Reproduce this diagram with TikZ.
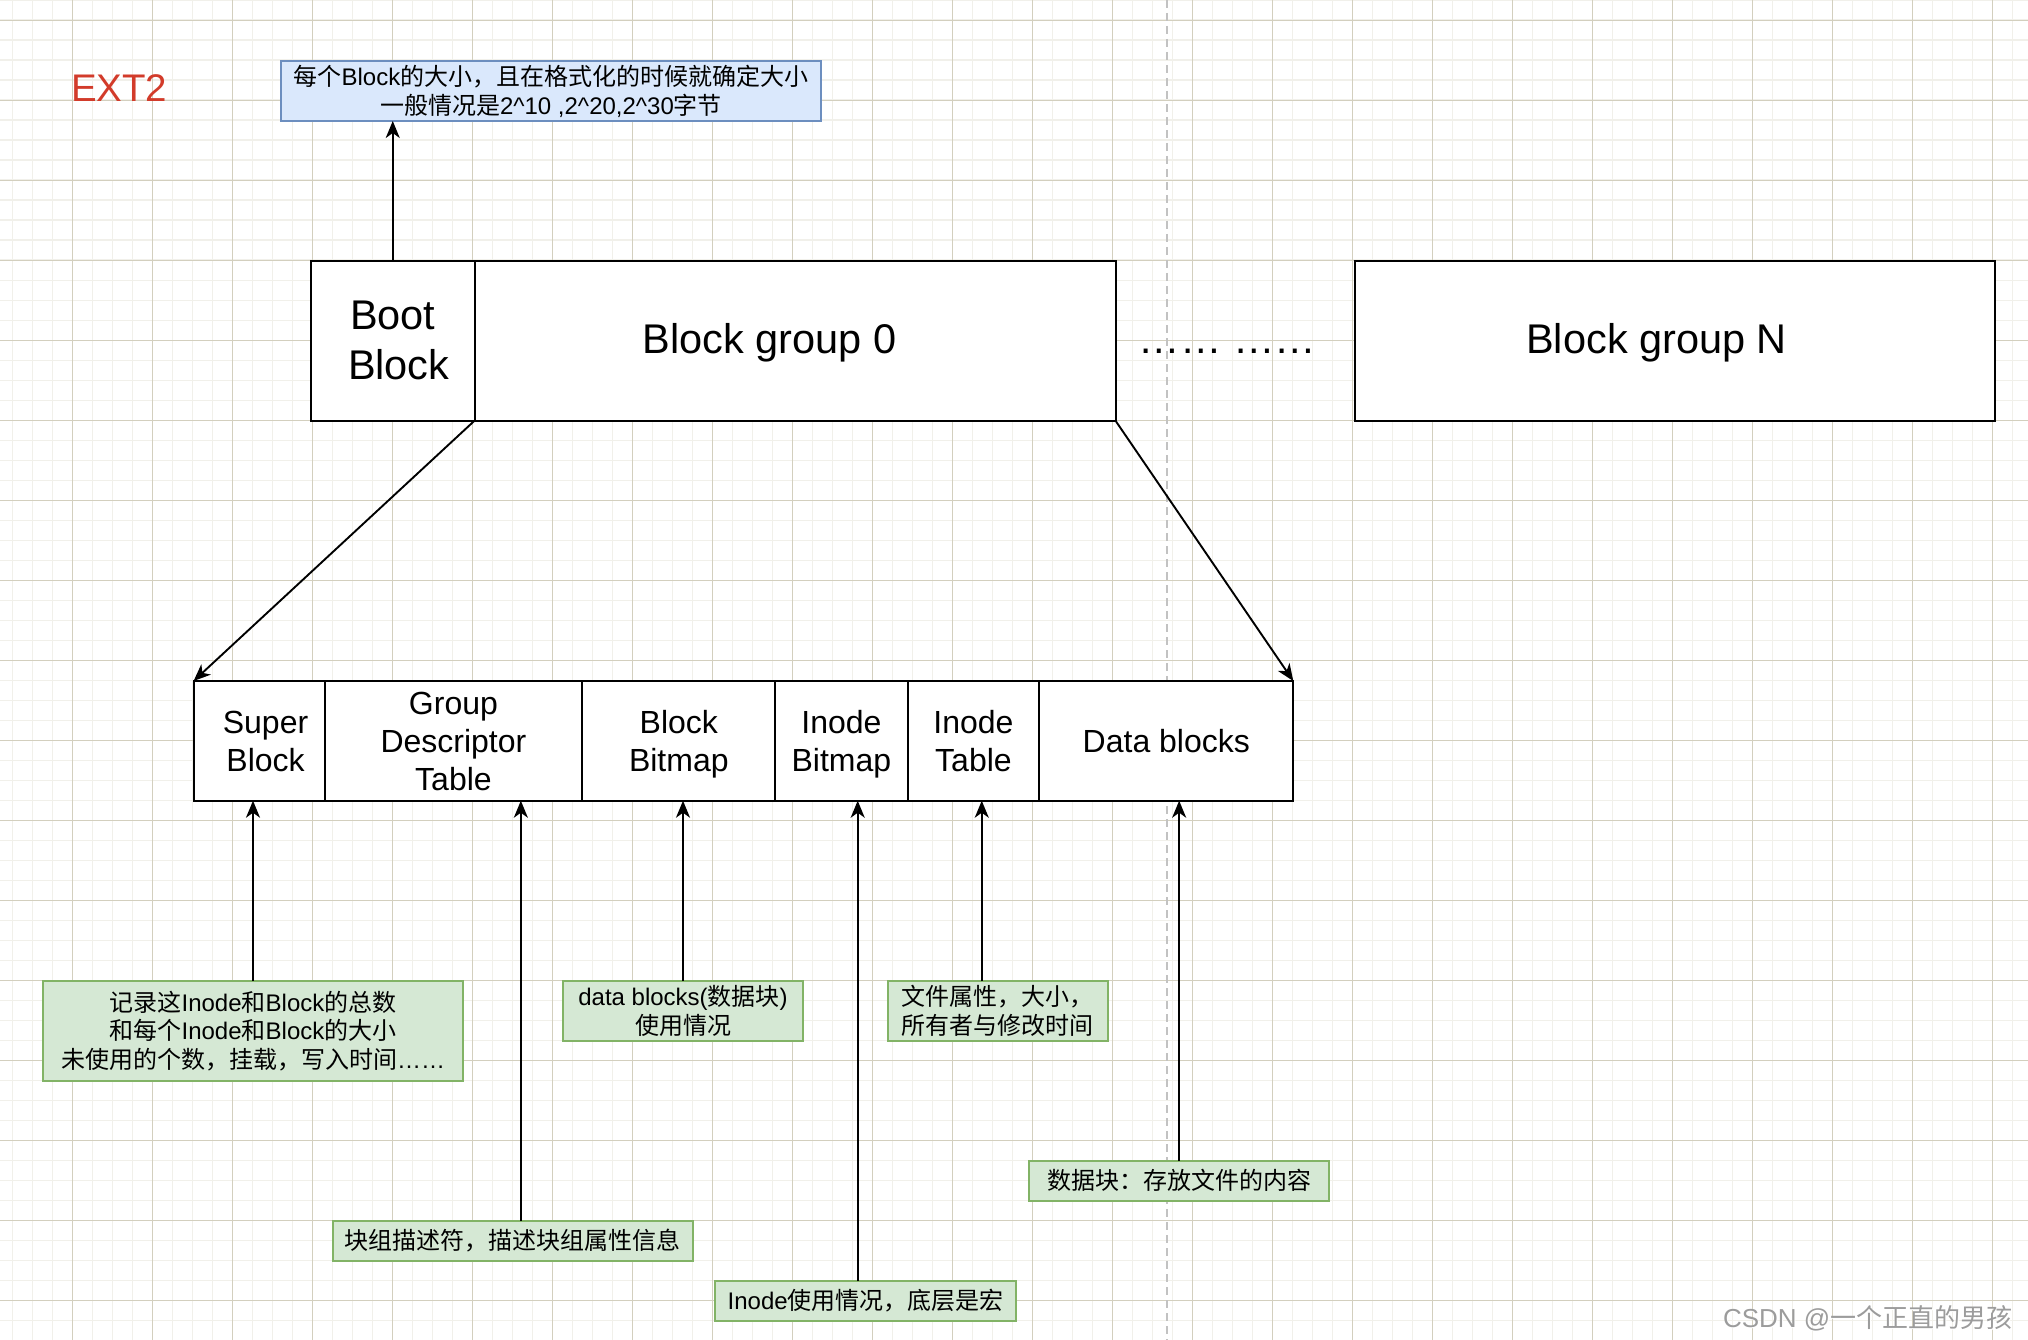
\documentclass[tikz,border=0pt]{standalone}
\usepackage{fontspec}
\setmainfont{Liberation Sans}
\newfontfamily\cjk{Noto Sans CJK SC}
\usetikzlibrary{arrows.meta,calc}
\newcommand{\zh}[1]{{\cjk #1}}
\newcommand{\rs}{\rule[-7.5pt]{0pt}{38.4pt}}
\definecolor{gridminor}{HTML}{F1F0EA}
\definecolor{gridmajor}{HTML}{D3CFBE}
\definecolor{bluefill}{HTML}{DAE8FC}
\definecolor{bluedraw}{HTML}{6C8EBF}
\definecolor{greenfill}{HTML}{D5E8D4}
\definecolor{greendraw}{HTML}{82B366}
\definecolor{extred}{HTML}{D23B2A}
\definecolor{dashgray}{HTML}{C2C2C2}
\definecolor{wmgray}{HTML}{9C9C9C}
\tikzset{
  blk/.style={draw=black, line width=2pt, fill=white, inner sep=0pt, outer sep=0pt, align=center},
  bigtext/.style={font=\fontsize{41.5}{50}\selectfont},
  rowtext/.style={font=\fontsize{32}{38.4}\selectfont},
  note/.style={draw=greendraw, fill=greenfill, line width=2pt, inner sep=0pt, outer sep=0pt, align=center, font=\fontsize{24}{28.8}\selectfont},
  bluenote/.style={draw=bluedraw, fill=bluefill, line width=2pt, inner sep=0pt, outer sep=0pt, align=center, font=\fontsize{24}{29}\selectfont},
  link/.style={line width=1.9pt, -{Stealth[length=17pt,width=14pt,inset=5pt]}},
  plain/.style={inner sep=0pt, outer sep=0pt},
}
\begin{document}
\begin{tikzpicture}[x=1pt,y=-1pt]
\useasboundingbox (0,0) rectangle (2028,1340);
\fill[white] (0,0) rectangle (2028,1340);
% grid
\foreach \i in {0,...,101} {\draw[gridminor, line width=1.6pt] ({12.3+20*\i},0) -- ++(0,1340);}
\foreach \j in {0,...,67} {\draw[gridminor, line width=1.6pt] (0,{0.3+20*\j}) -- ++(2028,0);}
\foreach \i in {0,...,24} {\draw[gridmajor, line width=1pt] ({72.3+80*\i},0) -- ++(0,1340);}
\foreach \j in {0,...,16} {\draw[gridmajor, line width=1pt] (0,{20.3+80*\j}) -- ++(2028,0);}
% dashed separator
\draw[dashgray, line width=2pt, dash pattern=on 8pt off 5pt] (1166.7,0) -- (1166.7,1340);

% title
\node[plain, anchor=base west, text=extred, font=\fontsize{38.5}{46}\selectfont] (ext) at (71,101.7) {EXT2};

% top row
\node[blk, bigtext, minimum width=163.5pt, minimum height=159.7pt] (boot) at (392.75,340.85) {Boot\\\hspace{12pt}Block};
\node[blk, minimum width=641pt, minimum height=159.7pt] (bg0) at (795,340.85) {};
\node[blk, minimum width=640.5pt, minimum height=159.7pt] (bgN) at (1674.95,340.85) {};
\node[plain, bigtext, anchor=base] (t0) at (769.7,353.3) {Block group 0};
\node[plain, bigtext, anchor=base] (tN) at (1656.6,353.3) {Block group N};
\node[plain, bigtext, anchor=base] (dots) at (1227.4,353.3) {…… ……};

% blue note
\node[bluenote, minimum width=540pt, minimum height=60pt] (blue) at (551,91)
  {\zh{每个}Block\zh{的大小，且在格式化的时候就确定大小}\\\zh{一般情况是}2\textasciicircum10 ,2\textasciicircum20,2\textasciicircum30\zh{字节}};

% bottom row
\node[blk, rowtext, minimum width=130.9pt, minimum height=119.7pt] (sb) at (259.05,740.85) {\rs\hspace{13pt}Super\\\rs\hspace{13pt}Block};
\node[blk, rowtext, minimum width=257.9pt, minimum height=119.7pt] (gdt) at (453.45,740.85) {\rs Group\\\rs Descriptor\\\rs Table};
\node[blk, rowtext, minimum width=192.8pt, minimum height=119.7pt] (bb) at (678.8,740.85) {\rs Block\\\rs Bitmap};
\node[blk, rowtext, minimum width=132.4pt, minimum height=119.7pt] (ib) at (841.4,740.85) {\rs Inode\\\rs Bitmap};
\node[blk, rowtext, minimum width=131.7pt, minimum height=119.7pt] (it) at (973.45,740.85) {\rs Inode\\\rs Table};
\node[blk, rowtext, minimum width=254pt, minimum height=119.7pt] (db) at (1166.3,740.85) {Data blocks};

% green notes
\node[note, minimum width=420pt, minimum height=100pt] (n1) at (253,1031)
  {\zh{记录这}Inode\zh{和}Block\zh{的总数}\\\zh{和每个}Inode\zh{和}Block\zh{的大小}\\\zh{未使用的个数，挂载，写入时间}……};
\node[note, minimum width=240pt, minimum height=60pt] (n2) at (683,1011)
  {data blocks(\zh{数据块})\\\zh{使用情况}};
\node[note, minimum width=220.5pt, minimum height=60pt] (n3) at (997.75,1011)
  {\zh{文件属性，大小，}\\\zh{所有者与修改时间}};
\node[note, minimum width=299.7pt, minimum height=40pt] (n4) at (1179.15,1180.7)
  {\zh{数据块：存放文件的内容}};
\node[note, minimum width=300.8pt, minimum height=40pt] (n5) at (865.7,1301)
  {Inode\zh{使用情况，底层是宏}};
\node[note, minimum width=360.7pt, minimum height=40pt] (n6) at (512.85,1241)
  {\zh{块组描述符，描述块组属性信息}};

% connectors
\draw[link] (boot.north) -- (boot.north |- blue.south);
\draw[link] (boot.south east) -- (sb.north west);
\draw[link] (bg0.south east) -- (db.north east);
\draw[link] (n1.north) -- (n1.north |- sb.south);
\draw[link] ([xshift=8pt]n6.north) -- ([xshift=8pt]n6.north |- gdt.south);
\draw[link] (n2.north) -- (n2.north |- bb.south);
\draw[link] ([xshift=-8pt]n5.north) -- ([xshift=-8pt]n5.north |- ib.south);
\draw[link] ([xshift=-16pt]n3.north) -- ([xshift=-16pt]n3.north |- it.south);
\draw[link] (n4.north) -- (n4.north |- db.south);

% watermark
\node[plain, anchor=base west, text=white, font=\fontsize{26}{30}\selectfont] (wm0) at (1724,1328) {CSDN @\zh{一个正直的男孩}};
\node[plain, anchor=base west, text=wmgray, font=\fontsize{26}{30}\selectfont] (wm) at (1723,1327) {CSDN @\zh{一个正直的男孩}};
\end{tikzpicture}
\end{document}
